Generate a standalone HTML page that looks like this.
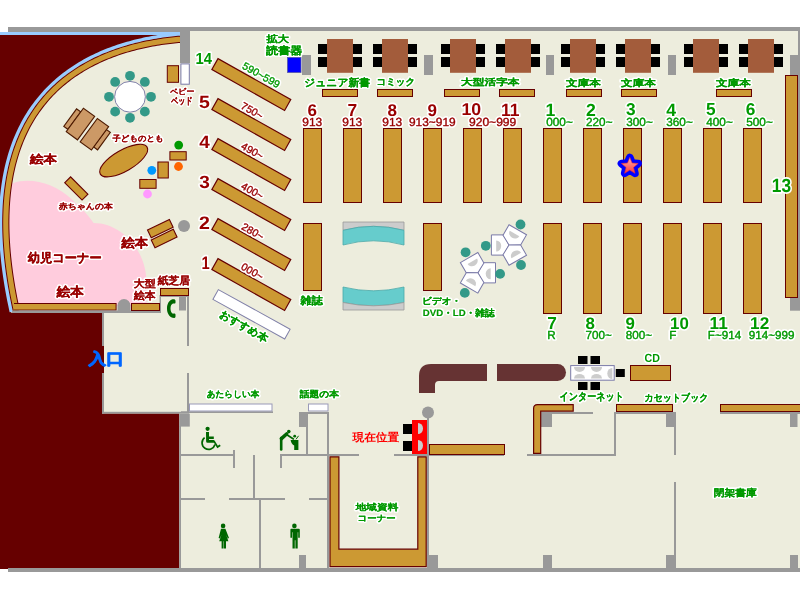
<!DOCTYPE html><html><head><meta charset="utf-8"><style>html,body{margin:0;padding:0;background:#fff;overflow:hidden}svg{display:block;will-change:transform}</style></head><body><svg width="800" height="600" viewBox="0 0 800 600" text-rendering="geometricPrecision">
<rect x="0" y="0" width="800" height="600" fill="#ffffff"/>
<rect x="8" y="31" width="792" height="538" fill="#ededdd"/>
<path d="M0,185 L13,183.2 C30,177 55,182.8 72,199.6 C80,207.4 88,214.2 93.5,223 C120,223 146,248 146.5,282 L146.5,306 L0,306 Z" fill="#ffccdd"/>
<path d="M0,35 L184,33 L184.00,33.00 L181.95,33.15 L179.87,33.31 L177.77,33.48 L175.64,33.68 L173.50,33.89 L171.33,34.12 L169.13,34.37 L166.92,34.64 L164.69,34.93 L162.44,35.24 L160.17,35.57 L157.89,35.92 L155.59,36.29 L153.28,36.68 L150.95,37.10 L148.61,37.54 L146.26,38.01 L143.89,38.50 L141.52,39.02 L139.14,39.56 L136.74,40.13 L134.35,40.72 L131.94,41.34 L129.53,41.99 L127.11,42.67 L124.70,43.38 L122.27,44.12 L119.85,44.89 L117.43,45.68 L115.00,46.51 L112.58,47.37 L110.16,48.27 L107.74,49.20 L105.32,50.16 L102.91,51.15 L100.50,52.18 L98.10,53.24 L95.71,54.34 L93.33,55.48 L90.95,56.65 L88.59,57.86 L86.24,59.10 L83.90,60.39 L81.57,61.72 L79.25,63.08 L76.95,64.48 L74.67,65.93 L72.40,67.41 L70.15,68.94 L67.91,70.51 L65.70,72.12 L63.51,73.78 L61.33,75.48 L59.18,77.22 L57.06,79.01 L54.95,80.84 L52.87,82.72 L50.82,84.65 L48.79,86.63 L46.80,88.65 L44.82,90.72 L42.88,92.84 L40.97,95.00 L39.09,97.22 L37.24,99.49 L35.43,101.81 L33.65,104.18 L31.90,106.60 L30.19,109.08 L28.52,111.61 L26.88,114.19 L25.28,116.82 L23.72,119.52 L22.21,122.26 L20.73,125.06 L19.29,127.92 L17.90,130.84 L16.55,133.81 L15.25,136.84 L14.00,139.93 L12.79,143.08 L11.62,146.29 L10.51,149.56 L9.44,152.89 L8.43,156.28 L7.47,159.73 L6.56,163.25 L5.70,166.83 L4.90,170.47 L4.15,174.18 L3.46,177.95 L2.82,181.78 L2.24,185.69 L1.72,189.65 L1.26,193.69 L0.87,197.79 L0.53,201.96 L0.25,206.20 L0.04,210.51 L-0.11,214.89 L-0.19,219.33 L-0.21,223.85 L-0.16,228.44 L-0.04,233.10 L0.15,237.84 L0.41,242.64 L0.73,247.52 L1.13,252.47 L1.60,257.50 L2.15,262.61 L2.77,267.78 L3.46,273.04 L4.23,278.37 L5.08,283.78 L6.00,289.27 L7.01,294.83 L8.09,300.47 L9.25,306.20 L10.50,312.00 L12,313 L102,313 L102,413.6 L179.2,413.6 L179.2,569 L0,569 Z" fill="#660000"/>
<rect x="0" y="32" width="181" height="3" fill="#99ccff"/>
<path d="M184.05,33.80 L182.01,33.94 L179.94,34.10 L177.84,34.28 L175.72,34.48 L173.58,34.69 L171.41,34.92 L169.23,35.17 L167.02,35.43 L164.80,35.72 L162.55,36.03 L160.29,36.36 L158.02,36.71 L155.72,37.08 L153.42,37.47 L151.09,37.89 L148.76,38.33 L146.42,38.79 L144.06,39.28 L141.69,39.80 L139.32,40.34 L136.93,40.90 L134.54,41.50 L132.15,42.12 L129.74,42.77 L127.34,43.44 L124.92,44.15 L122.51,44.88 L120.10,45.65 L117.68,46.44 L115.26,47.27 L112.85,48.13 L110.44,49.02 L108.03,49.94 L105.62,50.90 L103.22,51.89 L100.82,52.91 L98.43,53.97 L96.05,55.07 L93.68,56.20 L91.31,57.36 L88.96,58.57 L86.62,59.81 L84.29,61.09 L81.97,62.41 L79.66,63.77 L77.37,65.16 L75.10,66.60 L72.84,68.08 L70.60,69.60 L68.38,71.16 L66.18,72.77 L63.99,74.41 L61.83,76.10 L59.69,77.84 L57.58,79.62 L55.48,81.44 L53.42,83.31 L51.37,85.23 L49.36,87.19 L47.37,89.20 L45.41,91.26 L43.48,93.37 L41.58,95.53 L39.71,97.73 L37.87,99.99 L36.06,102.30 L34.29,104.65 L32.55,107.06 L30.85,109.53 L29.19,112.04 L27.56,114.61 L25.97,117.23 L24.42,119.91 L22.91,122.64 L21.44,125.43 L20.01,128.27 L18.63,131.18 L17.29,134.13 L15.99,137.15 L14.74,140.23 L13.53,143.36 L12.38,146.56 L11.27,149.81 L10.21,153.13 L9.20,156.50 L8.24,159.94 L7.33,163.44 L6.48,167.01 L5.68,170.64 L4.93,174.33 L4.24,178.09 L3.61,181.91 L3.04,185.80 L2.52,189.75 L2.06,193.77 L1.66,197.86 L1.33,202.02 L1.05,206.25 L0.84,210.54 L0.69,214.91 L0.61,219.34 L0.59,223.85 L0.64,228.43 L0.76,233.08 L0.95,237.80 L1.20,242.59 L1.53,247.46 L1.93,252.40 L2.40,257.42 L2.94,262.52 L3.56,267.68 L4.25,272.93 L5.02,278.25 L5.87,283.65 L6.79,289.13 L7.79,294.68 L8.87,300.32 L10.04,306.03 L11.28,311.83" fill="none" stroke="#99ccff" stroke-width="3.4"/>
<path d="M184.40,38.99 L182.39,39.13 L180.36,39.29 L178.30,39.46 L176.21,39.65 L174.11,39.86 L171.98,40.09 L169.83,40.33 L167.67,40.59 L165.48,40.88 L163.28,41.18 L161.06,41.50 L158.83,41.84 L156.58,42.21 L154.31,42.59 L152.04,43.00 L149.75,43.44 L147.45,43.89 L145.14,44.37 L142.82,44.87 L140.49,45.40 L138.16,45.96 L135.82,46.54 L133.47,47.14 L131.12,47.78 L128.77,48.44 L126.41,49.13 L124.05,49.85 L121.69,50.60 L119.33,51.37 L116.98,52.18 L114.62,53.02 L112.27,53.88 L109.92,54.78 L107.57,55.72 L105.23,56.68 L102.90,57.68 L100.57,58.71 L98.26,59.78 L95.95,60.87 L93.65,62.01 L91.36,63.18 L89.09,64.39 L86.82,65.63 L84.57,66.91 L82.34,68.22 L80.12,69.58 L77.91,70.97 L75.73,72.41 L73.56,73.88 L71.41,75.39 L69.27,76.94 L67.16,78.54 L65.07,80.17 L63.00,81.85 L60.96,83.57 L58.94,85.33 L56.94,87.14 L54.97,88.99 L53.02,90.88 L51.10,92.83 L49.21,94.81 L47.35,96.85 L45.51,98.93 L43.71,101.06 L41.93,103.23 L40.19,105.46 L38.48,107.74 L36.80,110.06 L35.16,112.44 L33.55,114.87 L31.98,117.35 L30.44,119.88 L28.95,122.47 L27.49,125.11 L26.06,127.81 L24.68,130.56 L23.34,133.37 L22.04,136.23 L20.79,139.16 L19.57,142.14 L18.41,145.18 L17.28,148.28 L16.21,151.44 L15.18,154.66 L14.19,157.95 L13.26,161.29 L12.38,164.70 L11.55,168.17 L10.77,171.71 L10.04,175.31 L9.37,178.98 L8.75,182.71 L8.19,186.51 L7.68,190.38 L7.23,194.32 L6.84,198.32 L6.51,202.40 L6.24,206.54 L6.04,210.76 L5.89,215.04 L5.81,219.40 L5.79,223.83 L5.84,228.33 L5.96,232.91 L6.14,237.56 L6.40,242.28 L6.72,247.08 L7.11,251.95 L7.57,256.90 L8.11,261.93 L8.72,267.04 L9.40,272.22 L10.16,277.48 L11.00,282.82 L11.91,288.23 L12.90,293.73 L13.98,299.31 L15.13,304.97 L16.36,310.71" fill="none" stroke="#660000" stroke-width="7.2"/>
<path d="M184.40,38.99 L182.39,39.13 L180.36,39.29 L178.30,39.46 L176.21,39.65 L174.11,39.86 L171.98,40.09 L169.83,40.33 L167.67,40.59 L165.48,40.88 L163.28,41.18 L161.06,41.50 L158.83,41.84 L156.58,42.21 L154.31,42.59 L152.04,43.00 L149.75,43.44 L147.45,43.89 L145.14,44.37 L142.82,44.87 L140.49,45.40 L138.16,45.96 L135.82,46.54 L133.47,47.14 L131.12,47.78 L128.77,48.44 L126.41,49.13 L124.05,49.85 L121.69,50.60 L119.33,51.37 L116.98,52.18 L114.62,53.02 L112.27,53.88 L109.92,54.78 L107.57,55.72 L105.23,56.68 L102.90,57.68 L100.57,58.71 L98.26,59.78 L95.95,60.87 L93.65,62.01 L91.36,63.18 L89.09,64.39 L86.82,65.63 L84.57,66.91 L82.34,68.22 L80.12,69.58 L77.91,70.97 L75.73,72.41 L73.56,73.88 L71.41,75.39 L69.27,76.94 L67.16,78.54 L65.07,80.17 L63.00,81.85 L60.96,83.57 L58.94,85.33 L56.94,87.14 L54.97,88.99 L53.02,90.88 L51.10,92.83 L49.21,94.81 L47.35,96.85 L45.51,98.93 L43.71,101.06 L41.93,103.23 L40.19,105.46 L38.48,107.74 L36.80,110.06 L35.16,112.44 L33.55,114.87 L31.98,117.35 L30.44,119.88 L28.95,122.47 L27.49,125.11 L26.06,127.81 L24.68,130.56 L23.34,133.37 L22.04,136.23 L20.79,139.16 L19.57,142.14 L18.41,145.18 L17.28,148.28 L16.21,151.44 L15.18,154.66 L14.19,157.95 L13.26,161.29 L12.38,164.70 L11.55,168.17 L10.77,171.71 L10.04,175.31 L9.37,178.98 L8.75,182.71 L8.19,186.51 L7.68,190.38 L7.23,194.32 L6.84,198.32 L6.51,202.40 L6.24,206.54 L6.04,210.76 L5.89,215.04 L5.81,219.40 L5.79,223.83 L5.84,228.33 L5.96,232.91 L6.14,237.56 L6.40,242.28 L6.72,247.08 L7.11,251.95 L7.57,256.90 L8.11,261.93 L8.72,267.04 L9.40,272.22 L10.16,277.48 L11.00,282.82 L11.91,288.23 L12.90,293.73 L13.98,299.31 L15.13,304.97 L16.36,310.71" fill="none" stroke="#cc9933" stroke-width="5.2"/>
<rect x="14" y="303" width="102.6" height="7.6" fill="#660000"/>
<rect x="14" y="304" width="101.6" height="5.6" fill="#cc9933"/>
<rect x="8" y="27" width="182" height="5" fill="#999999"/>
<rect x="190" y="27" width="610" height="4" fill="#999999"/>
<rect x="180" y="27" width="10" height="36" fill="#999999"/>
<rect x="798" y="31" width="2" height="267" fill="#999999"/>
<rect x="790" y="55" width="10" height="20" fill="#999999"/>
<rect x="790" y="297.7" width="10" height="13" fill="#999999"/>
<rect x="8" y="568" width="792" height="4" fill="#999999"/>
<rect x="102" y="313" width="2" height="33" fill="#999999"/>
<rect x="102" y="373" width="2" height="40.6" fill="#999999"/>
<rect x="102" y="346" width="2" height="27" fill="#660000"/>
<rect x="102" y="411.8" width="87" height="1.8" fill="#999999"/>
<rect x="187" y="296" width="2" height="50" fill="#999999"/>
<rect x="187" y="373" width="2" height="40" fill="#999999"/>
<rect x="160" y="295" width="29" height="2" fill="#999999"/>
<rect x="159.5" y="295" width="1.5" height="17.5" fill="#999999"/>
<rect x="12" y="310.5" width="149" height="2.5" fill="#999999"/>
<path d="M117.5,312.5 L117.5,305.5 A6.5,6.5 0 0 1 130.5,305.5 L130.5,312.5 Z" fill="#999999"/>
<rect x="179" y="296" width="7" height="14.5" fill="#999999"/>
<rect x="179.2" y="413.6" width="10.6" height="13" fill="#999999"/>
<rect x="179.2" y="426" width="1.8" height="142" fill="#999999"/>
<rect x="181" y="411.3" width="92" height="1.7" fill="#999999"/>
<rect x="299" y="412" width="7" height="15" fill="#999999"/>
<rect x="306" y="412" width="23" height="2" fill="#999999"/>
<rect x="306" y="413" width="2" height="42" fill="#999999"/>
<rect x="327" y="412" width="2" height="156" fill="#999999"/>
<rect x="181" y="454" width="54" height="2" fill="#999999"/>
<rect x="280" y="454" width="79" height="2" fill="#999999"/>
<rect x="394" y="454" width="110" height="2" fill="#999999"/>
<rect x="527" y="454" width="89" height="2" fill="#999999"/>
<rect x="233" y="450" width="2" height="18" fill="#999999"/>
<rect x="280" y="455" width="2" height="13" fill="#999999"/>
<rect x="253" y="455" width="2" height="44" fill="#999999"/>
<rect x="181" y="498" width="24" height="2" fill="#999999"/>
<rect x="229" y="498" width="56" height="2" fill="#999999"/>
<rect x="309" y="498" width="18" height="2" fill="#999999"/>
<rect x="259" y="499" width="2" height="69" fill="#999999"/>
<rect x="299" y="555" width="7" height="13" fill="#999999"/>
<rect x="427" y="412" width="2" height="156" fill="#999999"/>
<rect x="428" y="555" width="10" height="13" fill="#999999"/>
<circle cx="428" cy="412.5" r="6" fill="#999999"/>
<rect x="541" y="412" width="52" height="2" fill="#999999"/>
<rect x="541" y="414" width="11" height="13" fill="#999999"/>
<rect x="543" y="555" width="9" height="13" fill="#999999"/>
<rect x="614" y="412" width="2" height="44" fill="#999999"/>
<rect x="616" y="412" width="60" height="2" fill="#999999"/>
<rect x="666" y="414" width="10" height="13" fill="#999999"/>
<rect x="674" y="412" width="2" height="43" fill="#999999"/>
<rect x="674" y="482" width="2" height="86" fill="#999999"/>
<rect x="666" y="555" width="10" height="13" fill="#999999"/>
<rect x="720" y="412" width="80" height="2" fill="#999999"/>
<rect x="790" y="414" width="7.5" height="13" fill="#999999"/>
<rect x="790" y="555" width="8" height="13" fill="#999999"/>
<rect x="302" y="55" width="9" height="20" fill="#999999"/>
<rect x="424" y="55" width="9" height="20" fill="#999999"/>
<rect x="546" y="55" width="8" height="20" fill="#999999"/>
<rect x="668" y="55" width="8" height="20" fill="#999999"/>
<rect x="327" y="39" width="26" height="33.8" fill="#a35c3b"/>
<rect x="318" y="44" width="9" height="10" fill="#000"/>
<rect x="318" y="57" width="9" height="10" fill="#000"/>
<rect x="353" y="44" width="9" height="10" fill="#000"/>
<rect x="353" y="57" width="9" height="10" fill="#000"/>
<rect x="382" y="39" width="26" height="33.8" fill="#a35c3b"/>
<rect x="373" y="44" width="9" height="10" fill="#000"/>
<rect x="373" y="57" width="9" height="10" fill="#000"/>
<rect x="408" y="44" width="9" height="10" fill="#000"/>
<rect x="408" y="57" width="9" height="10" fill="#000"/>
<rect x="450" y="39" width="26" height="33.8" fill="#a35c3b"/>
<rect x="441" y="44" width="9" height="10" fill="#000"/>
<rect x="441" y="57" width="9" height="10" fill="#000"/>
<rect x="476" y="44" width="9" height="10" fill="#000"/>
<rect x="476" y="57" width="9" height="10" fill="#000"/>
<rect x="505" y="39" width="26" height="33.8" fill="#a35c3b"/>
<rect x="496" y="44" width="9" height="10" fill="#000"/>
<rect x="496" y="57" width="9" height="10" fill="#000"/>
<rect x="531" y="44" width="9" height="10" fill="#000"/>
<rect x="531" y="57" width="9" height="10" fill="#000"/>
<rect x="570" y="39" width="26" height="33.8" fill="#a35c3b"/>
<rect x="561" y="44" width="9" height="10" fill="#000"/>
<rect x="561" y="57" width="9" height="10" fill="#000"/>
<rect x="596" y="44" width="9" height="10" fill="#000"/>
<rect x="596" y="57" width="9" height="10" fill="#000"/>
<rect x="625" y="39" width="26" height="33.8" fill="#a35c3b"/>
<rect x="616" y="44" width="9" height="10" fill="#000"/>
<rect x="616" y="57" width="9" height="10" fill="#000"/>
<rect x="651" y="44" width="9" height="10" fill="#000"/>
<rect x="651" y="57" width="9" height="10" fill="#000"/>
<rect x="693" y="39" width="26" height="33.8" fill="#a35c3b"/>
<rect x="684" y="44" width="9" height="10" fill="#000"/>
<rect x="684" y="57" width="9" height="10" fill="#000"/>
<rect x="719" y="44" width="9" height="10" fill="#000"/>
<rect x="719" y="57" width="9" height="10" fill="#000"/>
<rect x="748" y="39" width="26" height="33.8" fill="#a35c3b"/>
<rect x="739" y="44" width="9" height="10" fill="#000"/>
<rect x="739" y="57" width="9" height="10" fill="#000"/>
<rect x="774" y="44" width="9" height="10" fill="#000"/>
<rect x="774" y="57" width="9" height="10" fill="#000"/>
<rect x="287.5" y="57.5" width="13.5" height="15" fill="#0000ff" stroke="#5555aa" stroke-width="0.8"/>
<rect x="322.5" y="89.5" width="35" height="7" fill="#cc9933" stroke="#660000" stroke-width="1"/>
<rect x="377.5" y="89.5" width="35" height="7" fill="#cc9933" stroke="#660000" stroke-width="1"/>
<rect x="444.5" y="89.5" width="35" height="7" fill="#cc9933" stroke="#660000" stroke-width="1"/>
<rect x="499.5" y="89.5" width="35" height="7" fill="#cc9933" stroke="#660000" stroke-width="1"/>
<rect x="566.5" y="89.5" width="35" height="7" fill="#cc9933" stroke="#660000" stroke-width="1"/>
<rect x="621.5" y="89.5" width="35" height="7" fill="#cc9933" stroke="#660000" stroke-width="1"/>
<rect x="716.5" y="89.5" width="35" height="7" fill="#cc9933" stroke="#660000" stroke-width="1"/>
<rect x="303.5" y="128.5" width="18" height="74" fill="#cc9933" stroke="#660000" stroke-width="1"/>
<rect x="343.5" y="128.5" width="18" height="74" fill="#cc9933" stroke="#660000" stroke-width="1"/>
<rect x="383.5" y="128.5" width="18" height="74" fill="#cc9933" stroke="#660000" stroke-width="1"/>
<rect x="423.5" y="128.5" width="18" height="74" fill="#cc9933" stroke="#660000" stroke-width="1"/>
<rect x="463.5" y="128.5" width="18" height="74" fill="#cc9933" stroke="#660000" stroke-width="1"/>
<rect x="503.5" y="128.5" width="18" height="74" fill="#cc9933" stroke="#660000" stroke-width="1"/>
<rect x="543.5" y="128.5" width="18" height="74" fill="#cc9933" stroke="#660000" stroke-width="1"/>
<rect x="583.5" y="128.5" width="18" height="74" fill="#cc9933" stroke="#660000" stroke-width="1"/>
<rect x="623.5" y="128.5" width="18" height="74" fill="#cc9933" stroke="#660000" stroke-width="1"/>
<rect x="663.5" y="128.5" width="18" height="74" fill="#cc9933" stroke="#660000" stroke-width="1"/>
<rect x="703.5" y="128.5" width="18" height="74" fill="#cc9933" stroke="#660000" stroke-width="1"/>
<rect x="743.5" y="128.5" width="18" height="74" fill="#cc9933" stroke="#660000" stroke-width="1"/>
<rect x="303.5" y="223.5" width="18" height="67" fill="#cc9933" stroke="#660000" stroke-width="1"/>
<rect x="423.5" y="223.5" width="18" height="67" fill="#cc9933" stroke="#660000" stroke-width="1"/>
<rect x="543.5" y="223.5" width="18" height="90" fill="#cc9933" stroke="#660000" stroke-width="1"/>
<rect x="583.5" y="223.5" width="18" height="90" fill="#cc9933" stroke="#660000" stroke-width="1"/>
<rect x="623.5" y="223.5" width="18" height="90" fill="#cc9933" stroke="#660000" stroke-width="1"/>
<rect x="663.5" y="223.5" width="18" height="90" fill="#cc9933" stroke="#660000" stroke-width="1"/>
<rect x="703.5" y="223.5" width="18" height="90" fill="#cc9933" stroke="#660000" stroke-width="1"/>
<rect x="743.5" y="223.5" width="18" height="90" fill="#cc9933" stroke="#660000" stroke-width="1"/>
<rect x="785.5" y="75.5" width="12" height="222" fill="#cc9933" stroke="#660000" stroke-width="1"/>
<rect x="0" y="0" width="83.5" height="12.5" fill="#cc9933" stroke="#660000" stroke-width="1.2" transform="translate(218,58.6) rotate(29.4)"/>
<rect x="0" y="0" width="83.5" height="12.5" fill="#cc9933" stroke="#660000" stroke-width="1.2" transform="translate(218,98.6) rotate(29.4)"/>
<rect x="0" y="0" width="83.5" height="12.5" fill="#cc9933" stroke="#660000" stroke-width="1.2" transform="translate(218,138.6) rotate(29.4)"/>
<rect x="0" y="0" width="83.5" height="12.5" fill="#cc9933" stroke="#660000" stroke-width="1.2" transform="translate(218,178.6) rotate(29.4)"/>
<rect x="0" y="0" width="83.5" height="12.5" fill="#cc9933" stroke="#660000" stroke-width="1.2" transform="translate(218,218.6) rotate(29.4)"/>
<rect x="0" y="0" width="83.5" height="12.5" fill="#cc9933" stroke="#660000" stroke-width="1.2" transform="translate(218,258.6) rotate(29.4)"/>
<rect x="0.6" y="0.6" width="82" height="11.2" fill="#ffffff" stroke="#8080a8" stroke-width="1" transform="translate(218.1,288.75) rotate(28.9)"/>
<path d="M343,222 H404 V230.3 Q373.5,222.3 343,230.3 Z" fill="#cccccc" stroke="#999" stroke-width="0.8"/>
<path d="M343,230.3 Q373.5,222.3 404,230.3 L404,245 Q373.5,236.6 343,245 Z" fill="#66cccc" stroke="#4aa8a8" stroke-width="0.8"/>
<path d="M343,287 Q373.5,294.6 404,287 L404,302.5 Q373.5,309.1 343,302.5 Z" fill="#66cccc" stroke="#4aa8a8" stroke-width="0.8"/>
<path d="M343,302.5 Q373.5,309.1 404,302.5 V310 H343 Z" fill="#cccccc" stroke="#999" stroke-width="0.8"/>
<g transform="translate(509,245) "><g transform="rotate(0)"><path d="M0,0 L-5.5,-10.1 L-17.6,-10.1 L-17.6,10.1 L-5.5,10.1 Z" fill="#fff" stroke="#7a7aa8" stroke-width="1"/><path d="M-12.8,-4.5 A5,5.5 0 0 1 -12.8,6.5 Z" fill="#cccccc"/></g><g transform="rotate(120)"><path d="M0,0 L-5.5,-10.1 L-17.6,-10.1 L-17.6,10.1 L-5.5,10.1 Z" fill="#fff" stroke="#7a7aa8" stroke-width="1"/><path d="M-12.8,-4.5 A5,5.5 0 0 1 -12.8,6.5 Z" fill="#cccccc"/></g><g transform="rotate(240)"><path d="M0,0 L-5.5,-10.1 L-17.6,-10.1 L-17.6,10.1 L-5.5,10.1 Z" fill="#fff" stroke="#7a7aa8" stroke-width="1"/><path d="M-12.8,-4.5 A5,5.5 0 0 1 -12.8,6.5 Z" fill="#cccccc"/></g></g><circle cx="485.8" cy="245.8" r="4.9" fill="#339988"/><circle cx="520.5" cy="224.5" r="4.9" fill="#339988"/><circle cx="521" cy="265" r="4.9" fill="#339988"/>
<g transform="translate(477.9,272.8) rotate(180) scale(1,-1)"><g transform="rotate(0)"><path d="M0,0 L-5.5,-10.1 L-17.6,-10.1 L-17.6,10.1 L-5.5,10.1 Z" fill="#fff" stroke="#7a7aa8" stroke-width="1"/><path d="M-12.8,-4.5 A5,5.5 0 0 1 -12.8,6.5 Z" fill="#cccccc"/></g><g transform="rotate(120)"><path d="M0,0 L-5.5,-10.1 L-17.6,-10.1 L-17.6,10.1 L-5.5,10.1 Z" fill="#fff" stroke="#7a7aa8" stroke-width="1"/><path d="M-12.8,-4.5 A5,5.5 0 0 1 -12.8,6.5 Z" fill="#cccccc"/></g><g transform="rotate(240)"><path d="M0,0 L-5.5,-10.1 L-17.6,-10.1 L-17.6,10.1 L-5.5,10.1 Z" fill="#fff" stroke="#7a7aa8" stroke-width="1"/><path d="M-12.8,-4.5 A5,5.5 0 0 1 -12.8,6.5 Z" fill="#cccccc"/></g></g><circle cx="500.1" cy="273.9" r="4.9" fill="#339988"/><circle cx="465.6" cy="252.3" r="4.9" fill="#339988"/><circle cx="464.8" cy="292.9" r="4.9" fill="#339988"/>
<path d="M419,393 L419,376 Q419,364 431,364 L487,364 L487,381 L439,381 Q435,381 435,385 L435,393 Z" fill="#663333"/>
<path d="M497,364 L557.5,364 A8.5,8.5 0 0 1 557.5,381 L497,381 Z" fill="#663333"/>
<rect x="578" y="356" width="9.5" height="8" fill="#000"/>
<rect x="578" y="382" width="9.5" height="8" fill="#000"/>
<rect x="590.5" y="356" width="9.5" height="8" fill="#000"/>
<rect x="590.5" y="382" width="9.5" height="8" fill="#000"/>
<rect x="615.8" y="369" width="9" height="8" fill="#000"/>
<rect x="570.7" y="365.6" width="43.5" height="14.6" fill="#fff" stroke="#7a7aa8" stroke-width="1"/>
<path d="M574.0,367 A5.5,5 0 0 0 585.0,367 Z" fill="#cccccc"/>
<path d="M574.0,378.6 A5.5,4.6 0 0 1 585.0,378.6 Z" fill="#cccccc"/>
<path d="M591.0,367 A5.5,5 0 0 0 602.0,367 Z" fill="#cccccc"/>
<path d="M591.0,378.6 A5.5,4.6 0 0 1 602.0,378.6 Z" fill="#cccccc"/>
<path d="M612.3,368 A5,5.5 0 0 0 612.3,379 Z" fill="#cccccc"/>
<rect x="630.5" y="365.5" width="40" height="15" fill="#cc9933" stroke="#660000" stroke-width="1"/>
<path d="M533.6,453.4 L533.6,408.5 Q533.6,404.6 537.5,404.6 L573.2,404.6 L573.2,411.2 L540.7,411.2 L540.7,453.4 Z" fill="#cc9933" stroke="#660000" stroke-width="1.2"/>
<rect x="616.5" y="404.5" width="56" height="7" fill="#cc9933" stroke="#660000" stroke-width="1"/>
<rect x="720.5" y="404.5" width="80" height="7" fill="#cc9933" stroke="#660000" stroke-width="1"/>
<rect x="429.5" y="444.5" width="75" height="10" fill="#cc9933" stroke="#660000" stroke-width="1"/>
<rect x="403" y="424" width="9" height="10" fill="#000"/>
<rect x="403" y="441" width="9" height="10" fill="#000"/>
<rect x="412" y="420" width="15" height="34" fill="#ff0000"/>
<path d="M418,423 A5,5.5 0 0 1 418,434 Z" fill="#cccccc"/>
<path d="M418,440 A5,5.5 0 0 1 418,451 Z" fill="#cccccc"/>
<path d="M330,456.8 L338.9,456.8 L338.9,549.2 L417.8,549.2 L417.8,456.8 L426.2,456.8 L426.2,566.6 L330,566.6 Z" fill="#cc9933" stroke="#660000" stroke-width="1.2"/>
<rect x="189.5" y="404" width="82.5" height="7" fill="#fff" stroke="#9a9ab8" stroke-width="1"/>
<rect x="308.5" y="404" width="19.5" height="7" fill="#fff" stroke="#9a9ab8" stroke-width="1"/>
<circle cx="151.00" cy="96.80" r="4.9" fill="#339988"/>
<circle cx="144.85" cy="111.65" r="4.9" fill="#339988"/>
<circle cx="130.00" cy="117.80" r="4.9" fill="#339988"/>
<circle cx="115.15" cy="111.65" r="4.9" fill="#339988"/>
<circle cx="109.00" cy="96.80" r="4.9" fill="#339988"/>
<circle cx="115.15" cy="81.95" r="4.9" fill="#339988"/>
<circle cx="130.00" cy="75.80" r="4.9" fill="#339988"/>
<circle cx="144.85" cy="81.95" r="4.9" fill="#339988"/>
<circle cx="130" cy="96.8" r="15.4" fill="#fff" stroke="#8080a8" stroke-width="1"/>
<g transform="translate(83.4,108.2) rotate(36.3)" fill="#cc9966" stroke="#4d1a00" stroke-width="1.1"><rect x="-5.1" y="4.6" width="5.2" height="21.6"/><rect x="0" y="0" width="14" height="29"/><rect x="31.1" y="3.6" width="5" height="21.6"/><rect x="17.3" y="0" width="14" height="29"/></g>
<rect x="167.3" y="65.7" width="11.2" height="16.6" fill="#cc9933" stroke="#660000" stroke-width="1"/>
<rect x="180.9" y="63.9" width="8.4" height="20.3" fill="#fff" stroke="#7a7aa8" stroke-width="1"/>
<ellipse cx="123.7" cy="160.6" rx="27" ry="10.5" transform="rotate(-30 123.7 160.6)" fill="#cc9933" stroke="#660000" stroke-width="1.1"/>
<circle cx="178.7" cy="145.1" r="4.4" fill="#009900"/>
<circle cx="178.5" cy="166.5" r="4.4" fill="#ff6600"/>
<circle cx="151.8" cy="170.3" r="4.4" fill="#0099ff"/>
<circle cx="147.5" cy="194" r="4.4" fill="#ff99ff"/>
<rect x="169.9" y="151.7" width="16.3" height="8.3" fill="#cc9933" stroke="#660000" stroke-width="1"/>
<rect x="157.9" y="162" width="10.4" height="16" fill="#cc9933" stroke="#660000" stroke-width="1"/>
<rect x="139.8" y="179.5" width="16.3" height="8.8" fill="#cc9933" stroke="#660000" stroke-width="1"/>
<rect x="0" y="0" width="24.5" height="8.3" fill="#cc9933" stroke="#660000" stroke-width="1.1" transform="translate(70.6,176.9) rotate(45)"/>
<rect x="0" y="0" width="24.3" height="8.6" fill="#cc9933" stroke="#660000" stroke-width="1.1" transform="translate(147.5,230) rotate(-25.8)"/>
<rect x="0" y="0" width="24.5" height="8.6" fill="#cc9933" stroke="#660000" stroke-width="1.1" transform="translate(151.25,240) rotate(-25.8)"/>
<circle cx="184" cy="225.9" r="6" fill="#999999"/>
<rect x="131.5" y="303.5" width="28" height="7" fill="#cc9933" stroke="#660000" stroke-width="1"/>
<rect x="160.5" y="288.5" width="28" height="7" fill="#cc9933" stroke="#660000" stroke-width="1"/>
<path d="M175.5,300.8 C175.5,299.2 174,298.9 172.5,299.3 C169,300.5 167,304 167,308.5 C167,313 169,316.5 172.5,317.8 C174,318.2 175.5,317.9 175.5,316.4 L175.5,314.6 C175.5,313.4 174.2,313.2 173,313.7 C171.3,313 170.5,311 170.5,308.5 C170.5,306 171.3,304 173,303.4 C174.2,303.8 175.5,303.6 175.5,302.4 Z" fill="#006600"/>
<g fill="#006600"><circle cx="207.6" cy="428.8" r="2.1"/><path d="M206,432 h3 v4.6 h4.8 v2.4 h-4.8 v1 h4.4 q1,0 1.5,0.9 l2.9,4.8 l1.9,-1.2 l1,1.5 l-3.4,2.3 l-3.3,-5.6 h-6.4 q-1.5,0 -1.5,-1.5 Z"/><path d="M204.6,437.6 A6.6,6.6 0 1 0 215,444.6" fill="none" stroke="#006600" stroke-width="1.7"/></g>
<g fill="#006600"><circle cx="288.8" cy="431.6" r="1.8"/><path d="M281.2,449.4 L281.2,438" fill="none" stroke="#006600" stroke-width="2.6" stroke-linecap="round"/><path d="M281.4,438.6 L286.6,434" fill="none" stroke="#006600" stroke-width="3.6" stroke-linecap="round"/><path d="M286.5,434.5 L293.4,439" fill="none" stroke="#006600" stroke-width="1.6" stroke-linecap="round"/><path d="M290.6,440 L298.4,440 L298.4,450 L294.2,450 L294.2,445.6 Q291.4,444.2 290.6,440 Z"/><circle cx="294.7" cy="436.2" r="1.4"/><path d="M296,439.3 L298.6,435.8" fill="none" stroke="#006600" stroke-width="1"/></g>
<g fill="#006600"><circle cx="223.1" cy="525.9" r="2.3"/><path d="M221,528.8 h4.4 l3.6,9.2 l-1.2,0.4 l-1.6,-3.4 l2.2,6.2 h-2.4 v7.2 h-2 v-7.2 h-0.4 v7.2 h-2 v-7.2 h-2.4 l2.2,-6.2 l-1.6,3.4 l-1.2,-0.4 Z"/></g>
<g fill="#006600"><circle cx="294.4" cy="525.9" r="2.3"/><path d="M290.2,528.8 h8.6 q1,0 1,1 v8 h-1.6 v-5.6 h-0.5 v16.2 h-2.3 v-8.2 h-0.6 v8.2 h-2.3 v-16.2 h-0.5 v5.6 h-1.6 v-8 q0,-1 0.8,-1 Z"/></g>
<text x="0" y="0" transform="matrix(1.01099,0,0,1.00000,-2.923,0.000) matrix(0.9306,0,0,0.7755,266.45,41.95)" font-family="'Liberation Sans', sans-serif" font-weight="bold" font-size="12" fill="#fff" stroke="#fff" stroke-width="4.04" stroke-linejoin="round">拡大</text>
<text x="0" y="0" transform="matrix(1.01099,0,0,1.00000,-2.923,0.000) matrix(0.9306,0,0,0.7755,266.45,41.95)" font-family="'Liberation Sans', sans-serif" font-weight="bold" font-size="12" fill="#009900" stroke="#009900" stroke-width="0.29" stroke-linejoin="round">拡大</text>
<text x="0" y="0" transform="matrix(1.00000,0,0,1.00000,0.000,0.000) matrix(1.0000,0,0,0.8571,266.25,53.79)" font-family="'Liberation Sans', sans-serif" font-weight="bold" font-size="12" fill="#fff" stroke="#fff" stroke-width="3.72" stroke-linejoin="round">読書器</text>
<text x="0" y="0" transform="matrix(1.00000,0,0,1.00000,0.000,0.000) matrix(1.0000,0,0,0.8571,266.25,53.79)" font-family="'Liberation Sans', sans-serif" font-weight="bold" font-size="12" fill="#009900" stroke="#009900" stroke-width="0.27" stroke-linejoin="round">読書器</text>
<text x="0" y="0" transform="matrix(1.00332,0,0,0.99564,-0.551,0.378) matrix(0.9194,0,0,1.0091,195.38,63.80)" font-family="'Liberation Sans', sans-serif" font-weight="bold" font-size="16" fill="#fff" stroke="#fff" stroke-width="3.32" stroke-linejoin="round">14</text>
<text x="0" y="0" transform="matrix(1.00332,0,0,0.99564,-0.551,0.378) matrix(0.9194,0,0,1.0091,195.38,63.80)" font-family="'Liberation Sans', sans-serif" font-weight="bold" font-size="16" fill="#009900">14</text>
<text x="0" y="0" transform="matrix(1.00000,0,0,1.00000,0.000,0.250) matrix(0.9811,0,0,0.9333,304.26,85.37)" font-family="'Liberation Sans', sans-serif" font-weight="bold" font-size="11" fill="#fff" stroke="#fff" stroke-width="3.50" stroke-linejoin="round">ジュニア新書</text>
<text x="0" y="0" transform="matrix(1.00000,0,0,1.00000,0.000,0.250) matrix(0.9811,0,0,0.9333,304.26,85.37)" font-family="'Liberation Sans', sans-serif" font-weight="bold" font-size="11" fill="#009900" stroke="#009900" stroke-width="0.16" stroke-linejoin="round">ジュニア新書</text>
<text x="0" y="0" transform="matrix(1.00005,0,0,1.01146,-0.069,-0.888) matrix(0.8571,0,0,0.8585,376.53,84.80)" font-family="'Liberation Sans', sans-serif" font-weight="bold" font-size="11" fill="#fff" stroke="#fff" stroke-width="3.91" stroke-linejoin="round">コミック</text>
<text x="0" y="0" transform="matrix(1.00005,0,0,1.01146,-0.069,-0.888) matrix(0.8571,0,0,0.8585,376.53,84.80)" font-family="'Liberation Sans', sans-serif" font-weight="bold" font-size="11" fill="#009900" stroke="#009900" stroke-width="0.17" stroke-linejoin="round">コミック</text>
<text x="0" y="0" transform="matrix(1.08241,0,0,0.97906,-40.429,1.860) matrix(0.9024,0,0,0.7520,463.23,84.90)" font-family="'Liberation Sans', sans-serif" font-weight="bold" font-size="12" fill="#fff" stroke="#fff" stroke-width="4.17" stroke-linejoin="round">大型活字本</text>
<text x="0" y="0" transform="matrix(1.08241,0,0,0.97906,-40.429,1.860) matrix(0.9024,0,0,0.7520,463.23,84.90)" font-family="'Liberation Sans', sans-serif" font-weight="bold" font-size="12" fill="#009900" stroke="#009900" stroke-width="0.30" stroke-linejoin="round">大型活字本</text>
<text x="0" y="0" transform="matrix(1.02941,0,0,0.96947,-17.162,2.565) matrix(0.9404,0,0,0.7837,566.57,85.83)" font-family="'Liberation Sans', sans-serif" font-weight="bold" font-size="12" fill="#fff" stroke="#fff" stroke-width="4.00" stroke-linejoin="round">文庫本</text>
<text x="0" y="0" transform="matrix(1.02941,0,0,0.96947,-17.162,2.565) matrix(0.9404,0,0,0.7837,566.57,85.83)" font-family="'Liberation Sans', sans-serif" font-weight="bold" font-size="12" fill="#009900" stroke="#009900" stroke-width="0.29" stroke-linejoin="round">文庫本</text>
<text x="0" y="0" transform="matrix(1.02941,0,0,0.96947,-18.779,2.565) matrix(0.9404,0,0,0.7837,621.57,85.83)" font-family="'Liberation Sans', sans-serif" font-weight="bold" font-size="12" fill="#fff" stroke="#fff" stroke-width="4.00" stroke-linejoin="round">文庫本</text>
<text x="0" y="0" transform="matrix(1.02941,0,0,0.96947,-18.779,2.565) matrix(0.9404,0,0,0.7837,621.57,85.83)" font-family="'Liberation Sans', sans-serif" font-weight="bold" font-size="12" fill="#009900" stroke="#009900" stroke-width="0.29" stroke-linejoin="round">文庫本</text>
<text x="0" y="0" transform="matrix(1.02941,0,0,0.96947,-21.574,2.565) matrix(0.9404,0,0,0.7837,716.57,85.83)" font-family="'Liberation Sans', sans-serif" font-weight="bold" font-size="12" fill="#fff" stroke="#fff" stroke-width="4.00" stroke-linejoin="round">文庫本</text>
<text x="0" y="0" transform="matrix(1.02941,0,0,0.96947,-21.574,2.565) matrix(0.9404,0,0,0.7837,716.57,85.83)" font-family="'Liberation Sans', sans-serif" font-weight="bold" font-size="12" fill="#009900" stroke="#009900" stroke-width="0.29" stroke-linejoin="round">文庫本</text>
<text x="0" y="0" transform="matrix(0.99722,0,0,1.01887,2.251,-3.623) matrix(1.0831,0,0,1.1739,771.72,191.71)" font-family="'Liberation Sans', sans-serif" font-weight="bold" font-size="16" fill="#fff" stroke="#fff" stroke-width="2.84" stroke-linejoin="round">13</text>
<text x="0" y="0" transform="matrix(0.99722,0,0,1.01887,2.251,-3.623) matrix(1.0831,0,0,1.1739,771.72,191.71)" font-family="'Liberation Sans', sans-serif" font-weight="bold" font-size="16" fill="#009900">13</text>
<text x="0" y="0" transform="matrix(0.99348,0,0,0.99072,2.105,2.738) matrix(1.0133,0,0,0.9511,300.45,304.04)" font-family="'Liberation Sans', sans-serif" font-weight="bold" font-size="11" fill="#fff" stroke="#fff" stroke-width="3.41" stroke-linejoin="round">雑誌</text>
<text x="0" y="0" transform="matrix(0.99348,0,0,0.99072,2.105,2.738) matrix(1.0133,0,0,0.9511,300.45,304.04)" font-family="'Liberation Sans', sans-serif" font-weight="bold" font-size="11" fill="#009900" stroke="#009900" stroke-width="0.15" stroke-linejoin="round">雑誌</text>
<text x="0" y="0" transform="matrix(1.00000,0,0,0.99442,0.000,1.705) matrix(0.8774,0,0,0.8190,421.96,304.27)" font-family="'Liberation Sans', sans-serif" font-weight="bold" font-size="11" fill="#fff" stroke="#fff" stroke-width="3.95" stroke-linejoin="round">ビデオ・</text>
<text x="0" y="0" transform="matrix(1.00000,0,0,0.99442,0.000,1.705) matrix(0.8774,0,0,0.8190,421.96,304.27)" font-family="'Liberation Sans', sans-serif" font-weight="bold" font-size="11" fill="#009900" stroke="#009900" stroke-width="0.18" stroke-linejoin="round">ビデオ・</text>
<text x="0" y="0" transform="matrix(1.00070,0,0,1.01084,-0.298,-3.590) matrix(0.8761,0,0,0.8267,422.84,315.85)" font-family="'Liberation Sans', sans-serif" font-weight="bold" font-size="11" fill="#fff" stroke="#fff" stroke-width="3.93" stroke-linejoin="round">DVD・LD・雑誌</text>
<text x="0" y="0" transform="matrix(1.00070,0,0,1.01084,-0.298,-3.590) matrix(0.8761,0,0,0.8267,422.84,315.85)" font-family="'Liberation Sans', sans-serif" font-weight="bold" font-size="11" fill="#009900" stroke="#009900" stroke-width="0.18" stroke-linejoin="round">DVD・LD・雑誌</text>
<text x="0" y="0" transform="matrix(1.00000,0,0,1.02516,0.000,-9.107) matrix(0.9667,0,0,1.0452,644.52,362.00)" font-family="'Liberation Sans', sans-serif" font-weight="bold" font-size="11" fill="#fff" stroke="#fff" stroke-width="3.18" stroke-linejoin="round">CD</text>
<text x="0" y="0" transform="matrix(1.00000,0,0,1.02516,0.000,-9.107) matrix(0.9667,0,0,1.0452,644.52,362.00)" font-family="'Liberation Sans', sans-serif" font-weight="bold" font-size="11" fill="#009900">CD</text>
<text x="0" y="0" transform="matrix(1.00000,0,0,1.00000,0.000,0.000) matrix(0.9018,0,0,1.0526,559.55,400.16)" font-family="'Liberation Sans', sans-serif" font-weight="bold" font-size="10" fill="#fff" stroke="#fff" stroke-width="3.43" stroke-linejoin="round">インターネット</text>
<text x="0" y="0" transform="matrix(1.00000,0,0,1.00000,0.000,0.000) matrix(0.9018,0,0,1.0526,559.55,400.16)" font-family="'Liberation Sans', sans-serif" font-weight="bold" font-size="10" fill="#009900" stroke="#009900" stroke-width="0.15" stroke-linejoin="round">インターネット</text>
<text x="0" y="0" transform="matrix(1.00000,0,0,1.00000,0.000,0.000) matrix(0.8921,0,0,0.9756,644.55,400.54)" font-family="'Liberation Sans', sans-serif" font-weight="bold" font-size="10" fill="#fff" stroke="#fff" stroke-width="3.59" stroke-linejoin="round">カセットブック</text>
<text x="0" y="0" transform="matrix(1.00000,0,0,1.00000,0.000,0.000) matrix(0.8921,0,0,0.9756,644.55,400.54)" font-family="'Liberation Sans', sans-serif" font-weight="bold" font-size="10" fill="#009900" stroke="#009900" stroke-width="0.16" stroke-linejoin="round">カセットブック</text>
<text x="0" y="0" transform="matrix(1.00002,0,0,0.99471,0.045,2.109) matrix(0.8607,0,0,0.8667,206.68,397.27)" font-family="'Liberation Sans', sans-serif" font-weight="bold" font-size="10" fill="#fff" stroke="#fff" stroke-width="3.88" stroke-linejoin="round">あたらしい本</text>
<text x="0" y="0" transform="matrix(1.00002,0,0,0.99471,0.045,2.109) matrix(0.8607,0,0,0.8667,206.68,397.27)" font-family="'Liberation Sans', sans-serif" font-weight="bold" font-size="10" fill="#009900" stroke="#009900" stroke-width="0.17" stroke-linejoin="round">あたらしい本</text>
<text x="0" y="0" transform="matrix(1.00004,0,0,0.96783,-0.063,12.594) matrix(0.9753,0,0,0.9100,299.84,397.63)" font-family="'Liberation Sans', sans-serif" font-weight="bold" font-size="10" fill="#fff" stroke="#fff" stroke-width="3.55" stroke-linejoin="round">話題の本</text>
<text x="0" y="0" transform="matrix(1.00004,0,0,0.96783,-0.063,12.594) matrix(0.9753,0,0,0.9100,299.84,397.63)" font-family="'Liberation Sans', sans-serif" font-weight="bold" font-size="10" fill="#009900" stroke="#009900" stroke-width="0.16" stroke-linejoin="round">話題の本</text>
<text x="0" y="0" transform="matrix(1.00703,0,0,0.98922,-2.649,5.466) matrix(0.9600,0,0,0.8000,355.87,509.80)" font-family="'Liberation Sans', sans-serif" font-weight="bold" font-size="11" fill="#fff" stroke="#fff" stroke-width="3.81" stroke-linejoin="round">地域資料</text>
<text x="0" y="0" transform="matrix(1.00703,0,0,0.98922,-2.649,5.466) matrix(0.9600,0,0,0.8000,355.87,509.80)" font-family="'Liberation Sans', sans-serif" font-weight="bold" font-size="11" fill="#009900" stroke="#009900" stroke-width="0.17" stroke-linejoin="round">地域資料</text>
<text x="0" y="0" transform="matrix(1.00276,0,0,0.97516,-1.141,12.746) matrix(0.8541,0,0,0.7900,357.73,521.62)" font-family="'Liberation Sans', sans-serif" font-weight="bold" font-size="11" fill="#fff" stroke="#fff" stroke-width="4.08" stroke-linejoin="round">コーナー</text>
<text x="0" y="0" transform="matrix(1.00276,0,0,0.97516,-1.141,12.746) matrix(0.8541,0,0,0.7900,357.73,521.62)" font-family="'Liberation Sans', sans-serif" font-weight="bold" font-size="11" fill="#009900" stroke="#009900" stroke-width="0.18" stroke-linejoin="round">コーナー</text>
<text x="0" y="0" transform="matrix(1.00234,0,0,1.02010,-1.671,-10.010) matrix(0.9783,0,0,0.8596,713.76,496.28)" font-family="'Liberation Sans', sans-serif" font-weight="bold" font-size="11" fill="#fff" stroke="#fff" stroke-width="3.65" stroke-linejoin="round">閉架書庫</text>
<text x="0" y="0" transform="matrix(1.00234,0,0,1.02010,-1.671,-10.010) matrix(0.9783,0,0,0.8596,713.76,496.28)" font-family="'Liberation Sans', sans-serif" font-weight="bold" font-size="11" fill="#009900" stroke="#009900" stroke-width="0.16" stroke-linejoin="round">閉架書庫</text>
<text x="0" y="0" transform="matrix(1.00000,0,0,1.00000,0.125,0.275) translate(261,74.7) rotate(29.4) translate(-20.50,3.62)" font-family="'Liberation Sans', sans-serif" font-weight="normal" font-size="10.5" fill="#fff" stroke="#fff" stroke-width="3.55" stroke-linejoin="round">590~599</text>
<text x="0" y="0" transform="matrix(1.00000,0,0,1.00000,0.125,0.275) translate(261,74.7) rotate(29.4) translate(-20.50,3.62)" font-family="'Liberation Sans', sans-serif" font-weight="normal" font-size="10.5" fill="#009900" stroke="#009900" stroke-width="0.35" stroke-linejoin="round">590~599</text>
<text x="0" y="0" transform="matrix(1.00000,0,0,1.00000,0.175,1.300) translate(251.9,109.4) rotate(29.4) translate(-11.75,3.62)" font-family="'Liberation Sans', sans-serif" font-weight="normal" font-size="10.5" fill="#fff" stroke="#fff" stroke-width="3.55" stroke-linejoin="round">750~</text>
<text x="0" y="0" transform="matrix(1.00000,0,0,1.00000,0.175,1.300) translate(251.9,109.4) rotate(29.4) translate(-11.75,3.62)" font-family="'Liberation Sans', sans-serif" font-weight="normal" font-size="10.5" fill="#990000" stroke="#990000" stroke-width="0.35" stroke-linejoin="round">750~</text>
<text x="0" y="0" transform="matrix(1.00000,0,0,1.00000,0.250,0.425) translate(252,150.4) rotate(29.4) translate(-11.62,3.62)" font-family="'Liberation Sans', sans-serif" font-weight="normal" font-size="10.5" fill="#fff" stroke="#fff" stroke-width="3.55" stroke-linejoin="round">490~</text>
<text x="0" y="0" transform="matrix(1.00000,0,0,1.00000,0.250,0.425) translate(252,150.4) rotate(29.4) translate(-11.62,3.62)" font-family="'Liberation Sans', sans-serif" font-weight="normal" font-size="10.5" fill="#990000" stroke="#990000" stroke-width="0.35" stroke-linejoin="round">490~</text>
<text x="0" y="0" transform="matrix(1.00000,0,0,1.00000,0.250,0.425) translate(252,190.4) rotate(29.4) translate(-11.62,3.62)" font-family="'Liberation Sans', sans-serif" font-weight="normal" font-size="10.5" fill="#fff" stroke="#fff" stroke-width="3.55" stroke-linejoin="round">400~</text>
<text x="0" y="0" transform="matrix(1.00000,0,0,1.00000,0.250,0.425) translate(252,190.4) rotate(29.4) translate(-11.62,3.62)" font-family="'Liberation Sans', sans-serif" font-weight="normal" font-size="10.5" fill="#990000" stroke="#990000" stroke-width="0.35" stroke-linejoin="round">400~</text>
<text x="0" y="0" transform="matrix(1.00000,0,0,1.00000,0.750,1.050) translate(252,230.4) rotate(29.4) translate(-11.75,3.62)" font-family="'Liberation Sans', sans-serif" font-weight="normal" font-size="10.5" fill="#fff" stroke="#fff" stroke-width="3.55" stroke-linejoin="round">280~</text>
<text x="0" y="0" transform="matrix(1.00000,0,0,1.00000,0.750,1.050) translate(252,230.4) rotate(29.4) translate(-11.75,3.62)" font-family="'Liberation Sans', sans-serif" font-weight="normal" font-size="10.5" fill="#990000" stroke="#990000" stroke-width="0.35" stroke-linejoin="round">280~</text>
<text x="0" y="0" transform="matrix(1.00000,0,0,1.00000,0.250,1.050) translate(252,270.4) rotate(29.4) translate(-11.75,3.62)" font-family="'Liberation Sans', sans-serif" font-weight="normal" font-size="10.5" fill="#fff" stroke="#fff" stroke-width="3.55" stroke-linejoin="round">000~</text>
<text x="0" y="0" transform="matrix(1.00000,0,0,1.00000,0.250,1.050) translate(252,270.4) rotate(29.4) translate(-11.75,3.62)" font-family="'Liberation Sans', sans-serif" font-weight="normal" font-size="10.5" fill="#990000" stroke="#990000" stroke-width="0.35" stroke-linejoin="round">000~</text>
<text x="0" y="0" transform="matrix(1.00000,0,0,1.00000,0.350,0.400) translate(243.8,326.2) rotate(29.5) translate(-27.00,3.38)" font-family="'Liberation Sans', sans-serif" font-weight="bold" font-size="10.5" fill="#fff" stroke="#fff" stroke-width="3.40" stroke-linejoin="round">おすすめ本</text>
<text x="0" y="0" transform="matrix(1.00000,0,0,1.00000,0.350,0.400) translate(243.8,326.2) rotate(29.5) translate(-27.00,3.38)" font-family="'Liberation Sans', sans-serif" font-weight="bold" font-size="10.5" fill="#009900" stroke="#009900" stroke-width="0.20" stroke-linejoin="round">おすすめ本</text>
<text x="0" y="0" transform="matrix(1.02703,0,0,1.00000,-5.500,0.000) matrix(1.1176,0,0,1.0417,199.14,107.74)" font-family="'Liberation Sans', sans-serif" font-weight="bold" font-size="17" fill="#fff" stroke="#fff" stroke-width="2.96" stroke-linejoin="round">5</text>
<text x="0" y="0" transform="matrix(1.02703,0,0,1.00000,-5.500,0.000) matrix(1.1176,0,0,1.0417,199.14,107.74)" font-family="'Liberation Sans', sans-serif" font-weight="bold" font-size="17" fill="#990000">5</text>
<text x="0" y="0" transform="matrix(1.00000,0,0,1.00818,-0.100,-1.261) matrix(1.1111,0,0,1.0468,199.42,148.10)" font-family="'Liberation Sans', sans-serif" font-weight="bold" font-size="17" fill="#fff" stroke="#fff" stroke-width="2.97" stroke-linejoin="round">4</text>
<text x="0" y="0" transform="matrix(1.00000,0,0,1.00818,-0.100,-1.261) matrix(1.1111,0,0,1.0468,199.42,148.10)" font-family="'Liberation Sans', sans-serif" font-weight="bold" font-size="17" fill="#990000">4</text>
<text x="0" y="0" transform="matrix(0.97436,0,0,1.00000,5.265,-0.100) matrix(1.1515,0,0,1.0417,199.12,188.44)" font-family="'Liberation Sans', sans-serif" font-weight="bold" font-size="17" fill="#fff" stroke="#fff" stroke-width="2.92" stroke-linejoin="round">3</text>
<text x="0" y="0" transform="matrix(0.97436,0,0,1.00000,5.265,-0.100) matrix(1.1515,0,0,1.0417,199.12,188.44)" font-family="'Liberation Sans', sans-serif" font-weight="bold" font-size="17" fill="#990000">3</text>
<text x="0" y="0" transform="matrix(1.00000,0,0,1.00000,-0.100,-0.100) matrix(1.1515,0,0,1.0638,199.12,228.70)" font-family="'Liberation Sans', sans-serif" font-weight="bold" font-size="17" fill="#fff" stroke="#fff" stroke-width="2.89" stroke-linejoin="round">2</text>
<text x="0" y="0" transform="matrix(1.00000,0,0,1.00000,-0.100,-0.100) matrix(1.1515,0,0,1.0638,199.12,228.70)" font-family="'Liberation Sans', sans-serif" font-weight="bold" font-size="17" fill="#990000">2</text>
<text x="0" y="0" transform="matrix(0.98524,0,0,1.00000,2.989,-0.100) matrix(0.8830,0,0,1.0638,201.44,268.70)" font-family="'Liberation Sans', sans-serif" font-weight="bold" font-size="17" fill="#fff" stroke="#fff" stroke-width="3.29" stroke-linejoin="round">1</text>
<text x="0" y="0" transform="matrix(0.98524,0,0,1.00000,2.989,-0.100) matrix(0.8830,0,0,1.0638,201.44,268.70)" font-family="'Liberation Sans', sans-serif" font-weight="bold" font-size="17" fill="#990000">1</text>
<text x="0" y="0" transform="matrix(1.00000,0,0,1.00000,0.000,0.100) matrix(1.0000,0,0,1.0000,307.50,115.55)" font-family="'Liberation Sans', sans-serif" font-weight="bold" font-size="17" fill="#fff" stroke="#fff" stroke-width="3.20" stroke-linejoin="round">6</text>
<text x="0" y="0" transform="matrix(1.00000,0,0,1.00000,0.000,0.100) matrix(1.0000,0,0,1.0000,307.50,115.55)" font-family="'Liberation Sans', sans-serif" font-weight="bold" font-size="17" fill="#990000">6</text>
<text x="0" y="0" transform="matrix(1.00000,0,0,0.98860,0.000,1.339) matrix(0.9943,0,0,0.9943,302.31,125.95)" font-family="'Liberation Sans', sans-serif" font-weight="normal" font-size="12" fill="#fff" stroke="#fff" stroke-width="3.62" stroke-linejoin="round">913</text>
<text x="0" y="0" transform="matrix(1.00000,0,0,0.98860,0.000,1.339) matrix(0.9943,0,0,0.9943,302.31,125.95)" font-family="'Liberation Sans', sans-serif" font-weight="normal" font-size="12" fill="#990000" stroke="#990000" stroke-width="0.40" stroke-linejoin="round">913</text>
<text x="0" y="0" transform="matrix(1.00000,0,0,1.00000,0.000,0.100) matrix(1.0213,0,0,1.0213,347.40,115.80)" font-family="'Liberation Sans', sans-serif" font-weight="bold" font-size="17" fill="#fff" stroke="#fff" stroke-width="3.13" stroke-linejoin="round">7</text>
<text x="0" y="0" transform="matrix(1.00000,0,0,1.00000,0.000,0.100) matrix(1.0213,0,0,1.0213,347.40,115.80)" font-family="'Liberation Sans', sans-serif" font-weight="bold" font-size="17" fill="#990000">7</text>
<text x="0" y="0" transform="matrix(1.00000,0,0,0.98860,0.000,1.339) matrix(0.9943,0,0,0.9943,342.31,125.95)" font-family="'Liberation Sans', sans-serif" font-weight="normal" font-size="12" fill="#fff" stroke="#fff" stroke-width="3.62" stroke-linejoin="round">913</text>
<text x="0" y="0" transform="matrix(1.00000,0,0,0.98860,0.000,1.339) matrix(0.9943,0,0,0.9943,342.31,125.95)" font-family="'Liberation Sans', sans-serif" font-weight="normal" font-size="12" fill="#990000" stroke="#990000" stroke-width="0.40" stroke-linejoin="round">913</text>
<text x="0" y="0" transform="matrix(1.00000,0,0,1.00000,0.000,0.100) matrix(1.0000,0,0,1.0000,387.50,115.55)" font-family="'Liberation Sans', sans-serif" font-weight="bold" font-size="17" fill="#fff" stroke="#fff" stroke-width="3.20" stroke-linejoin="round">8</text>
<text x="0" y="0" transform="matrix(1.00000,0,0,1.00000,0.000,0.100) matrix(1.0000,0,0,1.0000,387.50,115.55)" font-family="'Liberation Sans', sans-serif" font-weight="bold" font-size="17" fill="#990000">8</text>
<text x="0" y="0" transform="matrix(1.00000,0,0,0.98860,0.000,1.339) matrix(0.9943,0,0,0.9943,382.31,125.95)" font-family="'Liberation Sans', sans-serif" font-weight="normal" font-size="12" fill="#fff" stroke="#fff" stroke-width="3.62" stroke-linejoin="round">913</text>
<text x="0" y="0" transform="matrix(1.00000,0,0,0.98860,0.000,1.339) matrix(0.9943,0,0,0.9943,382.31,125.95)" font-family="'Liberation Sans', sans-serif" font-weight="normal" font-size="12" fill="#990000" stroke="#990000" stroke-width="0.40" stroke-linejoin="round">913</text>
<text x="0" y="0" transform="matrix(1.00000,0,0,1.00000,0.000,0.100) matrix(1.0000,0,0,1.0000,427.62,115.55)" font-family="'Liberation Sans', sans-serif" font-weight="bold" font-size="17" fill="#fff" stroke="#fff" stroke-width="3.20" stroke-linejoin="round">9</text>
<text x="0" y="0" transform="matrix(1.00000,0,0,1.00000,0.000,0.100) matrix(1.0000,0,0,1.0000,427.62,115.55)" font-family="'Liberation Sans', sans-serif" font-weight="bold" font-size="17" fill="#990000">9</text>
<text x="0" y="0" transform="matrix(1.00000,0,0,0.98860,0.000,1.339) matrix(0.9943,0,0,0.9943,408.88,125.95)" font-family="'Liberation Sans', sans-serif" font-weight="normal" font-size="12" fill="#fff" stroke="#fff" stroke-width="3.62" stroke-linejoin="round">913~919</text>
<text x="0" y="0" transform="matrix(1.00000,0,0,0.98860,0.000,1.339) matrix(0.9943,0,0,0.9943,408.88,125.95)" font-family="'Liberation Sans', sans-serif" font-weight="normal" font-size="12" fill="#990000" stroke="#990000" stroke-width="0.40" stroke-linejoin="round">913~919</text>
<text x="0" y="0" transform="matrix(1.00019,0,0,0.99185,-0.141,0.892) matrix(1.0435,0,0,1.0167,461.56,115.35)" font-family="'Liberation Sans', sans-serif" font-weight="bold" font-size="17" fill="#fff" stroke="#fff" stroke-width="3.11" stroke-linejoin="round">10</text>
<text x="0" y="0" transform="matrix(1.00019,0,0,0.99185,-0.141,0.892) matrix(1.0435,0,0,1.0167,461.56,115.35)" font-family="'Liberation Sans', sans-serif" font-weight="bold" font-size="17" fill="#990000">10</text>
<text x="0" y="0" transform="matrix(1.00431,0,0,0.99442,-2.222,0.604) matrix(1.0022,0,0,0.9829,469.15,125.95)" font-family="'Liberation Sans', sans-serif" font-weight="normal" font-size="12" fill="#fff" stroke="#fff" stroke-width="3.63" stroke-linejoin="round">920~999</text>
<text x="0" y="0" transform="matrix(1.00431,0,0,0.99442,-2.222,0.604) matrix(1.0022,0,0,0.9829,469.15,125.95)" font-family="'Liberation Sans', sans-serif" font-weight="normal" font-size="12" fill="#990000" stroke="#990000" stroke-width="0.40" stroke-linejoin="round">920~999</text>
<text x="0" y="0" transform="matrix(1.00000,0,0,1.01252,0.000,-1.495) matrix(1.0303,0,0,1.0383,500.97,115.60)" font-family="'Liberation Sans', sans-serif" font-weight="bold" font-size="17" fill="#fff" stroke="#fff" stroke-width="3.09" stroke-linejoin="round">11</text>
<text x="0" y="0" transform="matrix(1.00000,0,0,1.01252,0.000,-1.495) matrix(1.0303,0,0,1.0383,500.97,115.60)" font-family="'Liberation Sans', sans-serif" font-weight="bold" font-size="17" fill="#990000">11</text>
<text x="0" y="0" transform="matrix(1.00000,0,0,1.01252,0.050,-1.495) matrix(1.0383,0,0,1.0383,545.36,115.60)" font-family="'Liberation Sans', sans-serif" font-weight="bold" font-size="17" fill="#fff" stroke="#fff" stroke-width="3.08" stroke-linejoin="round">1</text>
<text x="0" y="0" transform="matrix(1.00000,0,0,1.01252,0.050,-1.495) matrix(1.0383,0,0,1.0383,545.36,115.60)" font-family="'Liberation Sans', sans-serif" font-weight="bold" font-size="17" fill="#009900">1</text>
<text x="0" y="0" transform="matrix(1.00000,0,0,0.99442,0.050,0.604) matrix(0.9829,0,0,0.9829,546.15,125.95)" font-family="'Liberation Sans', sans-serif" font-weight="normal" font-size="12" fill="#fff" stroke="#fff" stroke-width="3.66" stroke-linejoin="round">000~</text>
<text x="0" y="0" transform="matrix(1.00000,0,0,0.99442,0.050,0.604) matrix(0.9829,0,0,0.9829,546.15,125.95)" font-family="'Liberation Sans', sans-serif" font-weight="normal" font-size="12" fill="#009900" stroke="#009900" stroke-width="0.41" stroke-linejoin="round">000~</text>
<text x="0" y="0" transform="matrix(1.00000,0,0,0.99185,0.050,0.892) matrix(1.0383,0,0,1.0383,585.88,115.60)" font-family="'Liberation Sans', sans-serif" font-weight="bold" font-size="17" fill="#fff" stroke="#fff" stroke-width="3.08" stroke-linejoin="round">2</text>
<text x="0" y="0" transform="matrix(1.00000,0,0,0.99185,0.050,0.892) matrix(1.0383,0,0,1.0383,585.88,115.60)" font-family="'Liberation Sans', sans-serif" font-weight="bold" font-size="17" fill="#009900">2</text>
<text x="0" y="0" transform="matrix(1.00000,0,0,0.99442,0.050,0.604) matrix(0.9829,0,0,0.9829,585.91,125.95)" font-family="'Liberation Sans', sans-serif" font-weight="normal" font-size="12" fill="#fff" stroke="#fff" stroke-width="3.66" stroke-linejoin="round">220~</text>
<text x="0" y="0" transform="matrix(1.00000,0,0,0.99442,0.050,0.604) matrix(0.9829,0,0,0.9829,585.91,125.95)" font-family="'Liberation Sans', sans-serif" font-weight="normal" font-size="12" fill="#009900" stroke="#009900" stroke-width="0.41" stroke-linejoin="round">220~</text>
<text x="0" y="0" transform="matrix(1.00000,0,0,0.99185,0.050,0.892) matrix(1.0167,0,0,1.0167,625.89,115.35)" font-family="'Liberation Sans', sans-serif" font-weight="bold" font-size="17" fill="#fff" stroke="#fff" stroke-width="3.15" stroke-linejoin="round">3</text>
<text x="0" y="0" transform="matrix(1.00000,0,0,0.99185,0.050,0.892) matrix(1.0167,0,0,1.0167,625.89,115.35)" font-family="'Liberation Sans', sans-serif" font-weight="bold" font-size="17" fill="#009900">3</text>
<text x="0" y="0" transform="matrix(1.00000,0,0,0.99442,0.050,0.604) matrix(0.9829,0,0,0.9829,626.15,125.95)" font-family="'Liberation Sans', sans-serif" font-weight="normal" font-size="12" fill="#fff" stroke="#fff" stroke-width="3.66" stroke-linejoin="round">300~</text>
<text x="0" y="0" transform="matrix(1.00000,0,0,0.99442,0.050,0.604) matrix(0.9829,0,0,0.9829,626.15,125.95)" font-family="'Liberation Sans', sans-serif" font-weight="normal" font-size="12" fill="#009900" stroke="#009900" stroke-width="0.41" stroke-linejoin="round">300~</text>
<text x="0" y="0" transform="matrix(1.00000,0,0,1.01252,0.050,-1.495) matrix(1.0383,0,0,1.0383,666.14,115.60)" font-family="'Liberation Sans', sans-serif" font-weight="bold" font-size="17" fill="#fff" stroke="#fff" stroke-width="3.08" stroke-linejoin="round">4</text>
<text x="0" y="0" transform="matrix(1.00000,0,0,1.01252,0.050,-1.495) matrix(1.0383,0,0,1.0383,666.14,115.60)" font-family="'Liberation Sans', sans-serif" font-weight="bold" font-size="17" fill="#009900">4</text>
<text x="0" y="0" transform="matrix(1.00000,0,0,0.99442,0.050,0.604) matrix(0.9829,0,0,0.9829,666.15,125.95)" font-family="'Liberation Sans', sans-serif" font-weight="normal" font-size="12" fill="#fff" stroke="#fff" stroke-width="3.66" stroke-linejoin="round">360~</text>
<text x="0" y="0" transform="matrix(1.00000,0,0,0.99442,0.050,0.604) matrix(0.9829,0,0,0.9829,666.15,125.95)" font-family="'Liberation Sans', sans-serif" font-weight="normal" font-size="12" fill="#009900" stroke="#009900" stroke-width="0.41" stroke-linejoin="round">360~</text>
<text x="0" y="0" transform="matrix(1.00000,0,0,1.01252,0.050,-1.495) matrix(1.0167,0,0,1.0167,705.89,115.35)" font-family="'Liberation Sans', sans-serif" font-weight="bold" font-size="17" fill="#fff" stroke="#fff" stroke-width="3.15" stroke-linejoin="round">5</text>
<text x="0" y="0" transform="matrix(1.00000,0,0,1.01252,0.050,-1.495) matrix(1.0167,0,0,1.0167,705.89,115.35)" font-family="'Liberation Sans', sans-serif" font-weight="bold" font-size="17" fill="#009900">5</text>
<text x="0" y="0" transform="matrix(1.00000,0,0,0.99442,-0.200,0.604) matrix(0.9829,0,0,0.9829,706.40,125.95)" font-family="'Liberation Sans', sans-serif" font-weight="normal" font-size="12" fill="#fff" stroke="#fff" stroke-width="3.66" stroke-linejoin="round">400~</text>
<text x="0" y="0" transform="matrix(1.00000,0,0,0.99442,-0.200,0.604) matrix(0.9829,0,0,0.9829,706.40,125.95)" font-family="'Liberation Sans', sans-serif" font-weight="normal" font-size="12" fill="#009900" stroke="#009900" stroke-width="0.41" stroke-linejoin="round">400~</text>
<text x="0" y="0" transform="matrix(1.00000,0,0,0.99185,0.050,0.892) matrix(1.0167,0,0,1.0167,745.64,115.35)" font-family="'Liberation Sans', sans-serif" font-weight="bold" font-size="17" fill="#fff" stroke="#fff" stroke-width="3.15" stroke-linejoin="round">6</text>
<text x="0" y="0" transform="matrix(1.00000,0,0,0.99185,0.050,0.892) matrix(1.0167,0,0,1.0167,745.64,115.35)" font-family="'Liberation Sans', sans-serif" font-weight="bold" font-size="17" fill="#009900">6</text>
<text x="0" y="0" transform="matrix(1.00000,0,0,0.99442,0.050,0.604) matrix(0.9829,0,0,0.9829,746.15,125.95)" font-family="'Liberation Sans', sans-serif" font-weight="normal" font-size="12" fill="#fff" stroke="#fff" stroke-width="3.66" stroke-linejoin="round">500~</text>
<text x="0" y="0" transform="matrix(1.00000,0,0,0.99442,0.050,0.604) matrix(0.9829,0,0,0.9829,746.15,125.95)" font-family="'Liberation Sans', sans-serif" font-weight="normal" font-size="12" fill="#009900" stroke="#009900" stroke-width="0.41" stroke-linejoin="round">500~</text>
<text x="0" y="0" transform="matrix(1.00000,0,0,1.00433,0.000,-1.524) matrix(1.0128,0,0,1.0128,547.24,329.20)" font-family="'Liberation Sans', sans-serif" font-weight="bold" font-size="17" fill="#fff" stroke="#fff" stroke-width="3.16" stroke-linejoin="round">7</text>
<text x="0" y="0" transform="matrix(1.00000,0,0,1.00433,0.000,-1.524) matrix(1.0128,0,0,1.0128,547.24,329.20)" font-family="'Liberation Sans', sans-serif" font-weight="bold" font-size="17" fill="#009900">7</text>
<text x="0" y="0" transform="matrix(1.00000,0,0,1.00000,0.000,-0.100) matrix(0.9714,0,0,0.9714,547.27,339.46)" font-family="'Liberation Sans', sans-serif" font-weight="normal" font-size="12" fill="#fff" stroke="#fff" stroke-width="3.71" stroke-linejoin="round">R</text>
<text x="0" y="0" transform="matrix(1.00000,0,0,1.00000,0.000,-0.100) matrix(0.9714,0,0,0.9714,547.27,339.46)" font-family="'Liberation Sans', sans-serif" font-weight="normal" font-size="12" fill="#009900" stroke="#009900" stroke-width="0.41" stroke-linejoin="round">R</text>
<text x="0" y="0" transform="matrix(1.00000,0,0,0.98340,0.000,5.365) matrix(0.9917,0,0,0.9917,585.50,328.95)" font-family="'Liberation Sans', sans-serif" font-weight="bold" font-size="17" fill="#fff" stroke="#fff" stroke-width="3.23" stroke-linejoin="round">8</text>
<text x="0" y="0" transform="matrix(1.00000,0,0,0.98340,0.000,5.365) matrix(0.9917,0,0,0.9917,585.50,328.95)" font-family="'Liberation Sans', sans-serif" font-weight="bold" font-size="17" fill="#009900">8</text>
<text x="0" y="0" transform="matrix(1.00000,0,0,1.00000,0.000,-0.100) matrix(0.9714,0,0,0.9714,585.51,339.46)" font-family="'Liberation Sans', sans-serif" font-weight="normal" font-size="12" fill="#fff" stroke="#fff" stroke-width="3.71" stroke-linejoin="round">700~</text>
<text x="0" y="0" transform="matrix(1.00000,0,0,1.00000,0.000,-0.100) matrix(0.9714,0,0,0.9714,585.51,339.46)" font-family="'Liberation Sans', sans-serif" font-weight="normal" font-size="12" fill="#009900" stroke="#009900" stroke-width="0.41" stroke-linejoin="round">700~</text>
<text x="0" y="0" transform="matrix(1.00000,0,0,0.98340,0.000,5.365) matrix(0.9917,0,0,0.9917,625.50,328.95)" font-family="'Liberation Sans', sans-serif" font-weight="bold" font-size="17" fill="#fff" stroke="#fff" stroke-width="3.23" stroke-linejoin="round">9</text>
<text x="0" y="0" transform="matrix(1.00000,0,0,0.98340,0.000,5.365) matrix(0.9917,0,0,0.9917,625.50,328.95)" font-family="'Liberation Sans', sans-serif" font-weight="bold" font-size="17" fill="#009900">9</text>
<text x="0" y="0" transform="matrix(1.00000,0,0,1.00000,0.000,-0.100) matrix(0.9714,0,0,0.9714,625.76,339.46)" font-family="'Liberation Sans', sans-serif" font-weight="normal" font-size="12" fill="#fff" stroke="#fff" stroke-width="3.71" stroke-linejoin="round">800~</text>
<text x="0" y="0" transform="matrix(1.00000,0,0,1.00000,0.000,-0.100) matrix(0.9714,0,0,0.9714,625.76,339.46)" font-family="'Liberation Sans', sans-serif" font-weight="normal" font-size="12" fill="#009900" stroke="#009900" stroke-width="0.41" stroke-linejoin="round">800~</text>
<text x="0" y="0" transform="matrix(1.00000,0,0,0.98340,0.000,5.365) matrix(0.9917,0,0,0.9917,670.01,328.95)" font-family="'Liberation Sans', sans-serif" font-weight="bold" font-size="17" fill="#fff" stroke="#fff" stroke-width="3.23" stroke-linejoin="round">10</text>
<text x="0" y="0" transform="matrix(1.00000,0,0,0.98340,0.000,5.365) matrix(0.9917,0,0,0.9917,670.01,328.95)" font-family="'Liberation Sans', sans-serif" font-weight="bold" font-size="17" fill="#009900">10</text>
<text x="0" y="0" transform="matrix(1.00000,0,0,1.00000,0.000,-0.100) matrix(0.9714,0,0,0.9714,669.27,339.46)" font-family="'Liberation Sans', sans-serif" font-weight="normal" font-size="12" fill="#fff" stroke="#fff" stroke-width="3.71" stroke-linejoin="round">F</text>
<text x="0" y="0" transform="matrix(1.00000,0,0,1.00000,0.000,-0.100) matrix(0.9714,0,0,0.9714,669.27,339.46)" font-family="'Liberation Sans', sans-serif" font-weight="normal" font-size="12" fill="#009900" stroke="#009900" stroke-width="0.41" stroke-linejoin="round">F</text>
<text x="0" y="0" transform="matrix(1.00000,0,0,1.00433,-0.050,-1.524) matrix(1.0128,0,0,1.0128,709.59,329.20)" font-family="'Liberation Sans', sans-serif" font-weight="bold" font-size="17" fill="#fff" stroke="#fff" stroke-width="3.16" stroke-linejoin="round">11</text>
<text x="0" y="0" transform="matrix(1.00000,0,0,1.00433,-0.050,-1.524) matrix(1.0128,0,0,1.0128,709.59,329.20)" font-family="'Liberation Sans', sans-serif" font-weight="bold" font-size="17" fill="#009900">11</text>
<text x="0" y="0" transform="matrix(1.00000,0,0,1.00000,-0.050,-0.100) matrix(0.9714,0,0,0.9714,707.87,339.46)" font-family="'Liberation Sans', sans-serif" font-weight="normal" font-size="12" fill="#fff" stroke="#fff" stroke-width="3.71" stroke-linejoin="round">F~914</text>
<text x="0" y="0" transform="matrix(1.00000,0,0,1.00000,-0.050,-0.100) matrix(0.9714,0,0,0.9714,707.87,339.46)" font-family="'Liberation Sans', sans-serif" font-weight="normal" font-size="12" fill="#009900" stroke="#009900" stroke-width="0.41" stroke-linejoin="round">F~914</text>
<text x="0" y="0" transform="matrix(1.00000,0,0,0.98340,-0.100,5.365) matrix(1.0128,0,0,1.0128,750.19,329.20)" font-family="'Liberation Sans', sans-serif" font-weight="bold" font-size="17" fill="#fff" stroke="#fff" stroke-width="3.16" stroke-linejoin="round">12</text>
<text x="0" y="0" transform="matrix(1.00000,0,0,0.98340,-0.100,5.365) matrix(1.0128,0,0,1.0128,750.19,329.20)" font-family="'Liberation Sans', sans-serif" font-weight="bold" font-size="17" fill="#009900">12</text>
<text x="0" y="0" transform="matrix(1.00000,0,0,1.00000,-0.050,-0.100) matrix(0.9714,0,0,0.9714,748.86,339.46)" font-family="'Liberation Sans', sans-serif" font-weight="normal" font-size="12" fill="#fff" stroke="#fff" stroke-width="3.71" stroke-linejoin="round">914~999</text>
<text x="0" y="0" transform="matrix(1.00000,0,0,1.00000,-0.050,-0.100) matrix(0.9714,0,0,0.9714,748.86,339.46)" font-family="'Liberation Sans', sans-serif" font-weight="normal" font-size="12" fill="#009900" stroke="#009900" stroke-width="0.41" stroke-linejoin="round">914~999</text>
<text x="0" y="0" transform="matrix(1.00000,0,0,0.98743,0.000,1.049) matrix(0.9320,0,0,0.9000,170.23,93.90)" font-family="'Liberation Sans', sans-serif" font-weight="bold" font-size="8.5" fill="#fff" stroke="#fff" stroke-width="3.66" stroke-linejoin="round">ベビー</text>
<text x="0" y="0" transform="matrix(1.00000,0,0,0.98743,0.000,1.049) matrix(0.9320,0,0,0.9000,170.23,93.90)" font-family="'Liberation Sans', sans-serif" font-weight="bold" font-size="8.5" fill="#990000" stroke="#990000" stroke-width="0.16" stroke-linejoin="round">ベビー</text>
<text x="0" y="0" transform="matrix(0.88421,0,0,0.98860,20.905,1.197) matrix(0.9317,0,0,1.1226,169.97,103.60)" font-family="'Liberation Sans', sans-serif" font-weight="bold" font-size="8.5" fill="#fff" stroke="#fff" stroke-width="3.26" stroke-linejoin="round">ベッド</text>
<text x="0" y="0" transform="matrix(0.88421,0,0,0.98860,20.905,1.197) matrix(0.9317,0,0,1.1226,169.97,103.60)" font-family="'Liberation Sans', sans-serif" font-weight="bold" font-size="8.5" fill="#990000" stroke="#990000" stroke-width="0.15" stroke-linejoin="round">ベッド</text>
<text x="0" y="0" transform="matrix(1.00101,0,0,0.97611,-0.114,3.255) matrix(0.9284,0,0,0.9029,112.50,140.95)" font-family="'Liberation Sans', sans-serif" font-weight="bold" font-size="9" fill="#fff" stroke="#fff" stroke-width="3.66" stroke-linejoin="round">子どものとも</text>
<text x="0" y="0" transform="matrix(1.00101,0,0,0.97611,-0.114,3.255) matrix(0.9284,0,0,0.9029,112.50,140.95)" font-family="'Liberation Sans', sans-serif" font-weight="bold" font-size="9" fill="#990000" stroke="#990000" stroke-width="0.16" stroke-linejoin="round">子どものとも</text>
<text x="0" y="0" transform="matrix(1.00000,0,0,0.98340,0.050,2.491) matrix(0.9649,0,0,0.8351,29.88,163.12)" font-family="'Liberation Sans', sans-serif" font-weight="bold" font-size="14" fill="#fff" stroke="#fff" stroke-width="3.94" stroke-linejoin="round">絵本</text>
<text x="0" y="0" transform="matrix(1.00000,0,0,0.98340,0.050,2.491) matrix(0.9649,0,0,0.8351,29.88,163.12)" font-family="'Liberation Sans', sans-serif" font-weight="bold" font-size="14" fill="#990000" stroke="#990000" stroke-width="0.39" stroke-linejoin="round">絵本</text>
<text x="0" y="0" transform="matrix(0.99909,0,0,0.98239,0.054,3.656) matrix(0.9371,0,0,0.8513,58.75,209.11)" font-family="'Liberation Sans', sans-serif" font-weight="bold" font-size="9.5" fill="#fff" stroke="#fff" stroke-width="3.75" stroke-linejoin="round">赤ちゃんの本</text>
<text x="0" y="0" transform="matrix(0.99909,0,0,0.98239,0.054,3.656) matrix(0.9371,0,0,0.8513,58.75,209.11)" font-family="'Liberation Sans', sans-serif" font-weight="bold" font-size="9.5" fill="#990000" stroke="#990000" stroke-width="0.17" stroke-linejoin="round">赤ちゃんの本</text>
<text x="0" y="0" transform="matrix(1.00000,0,0,0.98113,0.000,4.453) matrix(0.9474,0,0,0.9123,121.47,246.95)" font-family="'Liberation Sans', sans-serif" font-weight="bold" font-size="14" fill="#fff" stroke="#fff" stroke-width="3.82" stroke-linejoin="round">絵本</text>
<text x="0" y="0" transform="matrix(1.00000,0,0,0.98113,0.000,4.453) matrix(0.9474,0,0,0.9123,121.47,246.95)" font-family="'Liberation Sans', sans-serif" font-weight="bold" font-size="14" fill="#990000" stroke="#990000" stroke-width="0.38" stroke-linejoin="round">絵本</text>
<text x="0" y="0" transform="matrix(1.00000,0,0,1.00000,0.000,0.050) matrix(0.9425,0,0,0.9434,27.74,262.28)" font-family="'Liberation Sans', sans-serif" font-weight="bold" font-size="13" fill="#fff" stroke="#fff" stroke-width="3.76" stroke-linejoin="round">幼児コーナー</text>
<text x="0" y="0" transform="matrix(1.00000,0,0,1.00000,0.000,0.050) matrix(0.9425,0,0,0.9434,27.74,262.28)" font-family="'Liberation Sans', sans-serif" font-weight="bold" font-size="13" fill="#990000" stroke="#990000" stroke-width="0.37" stroke-linejoin="round">幼児コーナー</text>
<text x="0" y="0" transform="matrix(1.00000,0,0,0.98496,0.000,4.246) matrix(0.9649,0,0,0.9228,56.73,296.67)" font-family="'Liberation Sans', sans-serif" font-weight="bold" font-size="14" fill="#fff" stroke="#fff" stroke-width="3.76" stroke-linejoin="round">絵本</text>
<text x="0" y="0" transform="matrix(1.00000,0,0,0.98496,0.000,4.246) matrix(0.9649,0,0,0.9228,56.73,296.67)" font-family="'Liberation Sans', sans-serif" font-weight="bold" font-size="14" fill="#990000" stroke="#990000" stroke-width="0.37" stroke-linejoin="round">絵本</text>
<text x="0" y="0" transform="matrix(0.99775,0,0,1.00000,0.551,0.000) matrix(0.9604,0,0,0.8696,133.51,287.23)" font-family="'Liberation Sans', sans-serif" font-weight="bold" font-size="11.5" fill="#fff" stroke="#fff" stroke-width="3.66" stroke-linejoin="round">大型</text>
<text x="0" y="0" transform="matrix(0.99775,0,0,1.00000,0.551,0.000) matrix(0.9604,0,0,0.8696,133.51,287.23)" font-family="'Liberation Sans', sans-serif" font-weight="bold" font-size="11.5" fill="#990000" stroke="#990000" stroke-width="0.16" stroke-linejoin="round">大型</text>
<text x="0" y="0" transform="matrix(0.99775,0,0,0.98148,0.301,5.333) matrix(0.9398,0,0,0.9261,133.98,299.63)" font-family="'Liberation Sans', sans-serif" font-weight="bold" font-size="11.5" fill="#fff" stroke="#fff" stroke-width="3.59" stroke-linejoin="round">絵本</text>
<text x="0" y="0" transform="matrix(0.99775,0,0,0.98148,0.301,5.333) matrix(0.9398,0,0,0.9261,133.98,299.63)" font-family="'Liberation Sans', sans-serif" font-weight="bold" font-size="11.5" fill="#990000" stroke="#990000" stroke-width="0.16" stroke-linejoin="round">絵本</text>
<text x="0" y="0" transform="matrix(1.00000,0,0,0.98148,0.000,5.055) matrix(0.9353,0,0,0.9261,157.73,284.63)" font-family="'Liberation Sans', sans-serif" font-weight="bold" font-size="11.5" fill="#fff" stroke="#fff" stroke-width="3.60" stroke-linejoin="round">紙芝居</text>
<text x="0" y="0" transform="matrix(1.00000,0,0,0.98148,0.000,5.055) matrix(0.9353,0,0,0.9261,157.73,284.63)" font-family="'Liberation Sans', sans-serif" font-weight="bold" font-size="11.5" fill="#990000" stroke="#990000" stroke-width="0.16" stroke-linejoin="round">紙芝居</text>
<text x="0" y="0" transform="matrix(1.00000,0,0,0.99093,0.000,3.921) matrix(0.9740,0,0,0.9319,352.49,441.57)" font-family="'Liberation Sans', sans-serif" font-weight="bold" font-size="12" fill="#ff0000">現在位置</text>
<text x="0" y="0" transform="matrix(1.00297,0,0,1.00302,-0.411,-1.057) matrix(1.0400,0,0,0.9135,88.58,363.70)" font-family="'Liberation Sans', sans-serif" font-weight="bold" font-size="17" fill="#0066ff" stroke="#0066ff" stroke-width="1.02" stroke-linejoin="round">入口</text>
<defs><linearGradient id="sg" x1="0" y1="0" x2="0" y2="1"><stop offset="0" stop-color="#ffb0b0"/><stop offset="1" stop-color="#ff3838"/></linearGradient></defs>
<path d="M629.80,157.40 L632.09,163.04 L638.17,163.48 L633.51,167.41 L634.97,173.32 L629.80,170.10 L624.63,173.32 L626.09,167.41 L621.43,163.48 L627.51,163.04 Z" fill="#0000ff" stroke="#0000ff" stroke-width="7.6" stroke-linejoin="round"/>
<path d="M629.80,157.40 L632.09,163.04 L638.17,163.48 L633.51,167.41 L634.97,173.32 L629.80,170.10 L624.63,173.32 L626.09,167.41 L621.43,163.48 L627.51,163.04 Z" fill="url(#sg)" stroke="#ee3333" stroke-width="0.6" stroke-linejoin="round"/>
</svg></body></html>
